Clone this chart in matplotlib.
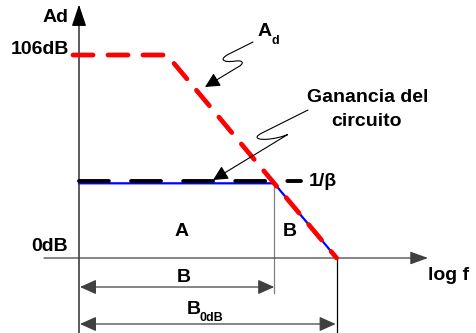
import matplotlib.pyplot as plt
from matplotlib.path import Path
from matplotlib.patches import FancyArrowPatch
from matplotlib.transforms import Affine2D, ScaledTranslation

plt.rcParams['font.family'] = ['Liberation Sans', 'DejaVu Sans']
plt.rcParams['lines.scale_dashes'] = False

# Bode asintotico: eje x en decadas (log f), eje y en dB
ad_db = 106      # ganancia en lazo abierto
beta_db = 39     # 1/beta, ganancia del circuito
polo = 2.75      # log f del polo dominante
pend = 20        # dB por decada

f_0db = polo + ad_db / pend
f_b = polo + (ad_db - beta_db) / pend

ad_x = [-0.19, polo, f_0db]
ad_y = [ad_db, ad_db, 0]
lc_x = [0, f_b, f_0db]
lc_y = [beta_db, beta_db, 0]
beta_x = [0, 6.94]
beta_y = [beta_db, beta_db]

W, H = 476, 333
fig = plt.figure(figsize=(W / 100, H / 100), dpi=100)
ax = fig.add_axes([0, 0, 1, 1])
ax.set_xlim(-79 / 32, (W - 79) / 32)
ax.set_ylim((258 - H) / 1.915, 258 / 1.915)
ax.axis('off')

# coordenadas en pixeles (origen arriba a la izquierda)
tp = Affine2D().scale(1 / W, -1 / H).translate(0, 1) + fig.transFigure

gris = '#404040'


def flecha(p0, p1, estilo, hl, hw, color='k', lw=0.9, tr=None):
    a = FancyArrowPatch(p0, p1, arrowstyle=f'{estilo},head_length={hl},head_width={hw}',
                        mutation_scale=1, shrinkA=0, shrinkB=0, color=color, lw=lw,
                        transform=tr if tr is not None else ax.transData, zorder=3)
    ax.add_patch(a)


# ejes
flecha((0, ax.get_ylim()[0]), (0, 254 / 1.915 - 0.3), '-|>', 13.5, 4.5)
flecha((-35 / 32, 0), ((428 - 79) / 32, 0), '-|>', 11, 4, color=gris)

# lineas de referencia verticales
ax.plot([f_b, f_b], [beta_db, (258 - 293) / 1.915], color='#808080', lw=0.9)
ax.plot([f_0db, f_0db], [0, ax.get_ylim()[0]], color='k', lw=0.9)

# cotas B y B0dB
flecha((0.03, (258 - 287) / 1.915), (f_b, (258 - 287) / 1.915), '<|-|>', 10, 4.5, color=gris)
flecha((0.03, (258 - 324) / 1.915), (f_0db - 0.03, (258 - 324) / 1.915), '<|-|>', 10, 4.5, color=gris)

# curvas
ax.plot(lc_x, lc_y, color='#0000ff', lw=1.6, solid_capstyle='round', zorder=4)
up = ax.transData + ScaledTranslation(0, 2.2 / 100, fig.dpi_scale_trans)
ax.plot(beta_x, beta_y, color='k', lw=2.8, dashes=(21.5, 16), dash_capstyle='round',
        transform=up, zorder=5)
ax.plot(ad_x, ad_y, color='#ff0000', lw=3.4, dashes=(14.5, 10.7), dash_capstyle='round',
        solid_joinstyle='round', zorder=6)

# indicadores ondulados
ind_ad = Path([(253, 42), (229, 54), (219, 59), (222, 63), (236, 61),
               (244, 60), (244, 64), (238, 67), (205, 87)],
              [Path.MOVETO, Path.LINETO, Path.CURVE4, Path.CURVE4, Path.CURVE4,
               Path.CURVE4, Path.CURVE4, Path.CURVE4, Path.LINETO])
ind_g = Path([(308, 110), (262, 133), (250, 139), (262, 141), (276, 138),
              (290, 135), (291, 132), (282, 138), (213, 180)],
             [Path.MOVETO, Path.LINETO, Path.CURVE4, Path.CURVE4, Path.CURVE4,
              Path.CURVE4, Path.CURVE4, Path.CURVE4, Path.LINETO])
for p in (ind_ad, ind_g):
    a = FancyArrowPatch(path=p, arrowstyle='-|>,head_length=9,head_width=4.5',
                        mutation_scale=1, color='k', lw=0.8, transform=tp, zorder=7)
    ax.add_patch(a)

# textos
fs = 14
kw = dict(transform=tp, fontsize=fs, fontweight='bold', color='k')
ax.text(56, 18, 'Ad', ha='center', va='center', **kw)
ax.text(40, 49, '106dB', ha='center', va='center', **kw)
ax.text(50, 246.5, '0dB', ha='center', va='center', **kw)
ax.text(181.5, 232, 'A', ha='center', va='center', **kw)
ax.text(289.5, 232, 'B', ha='center', va='center', **kw)
ax.text(183.5, 277, 'B', ha='center', va='center', **kw)
ax.text(194, 310, 'B', ha='center', va='center', **kw)
ax.text(200, 318, '0dB', ha='left', va='center', transform=tp, fontsize=9,
        fontweight='bold')
ax.text(265, 32, 'A', ha='center', va='center', **kw)
ax.text(272, 41, 'd', ha='left', va='center', transform=tp, fontsize=9,
        fontweight='bold')
ax.text(368, 97, 'Ganancia del', ha='center', va='center', **kw)
ax.text(367, 121, 'circuito', ha='center', va='center', **kw)
ax.text(309, 181, '1/β', ha='left', va='center', **kw)
ax.text(428, 275, 'log f', ha='left', va='center', **kw)

fig.savefig('out.png', dpi=100)
